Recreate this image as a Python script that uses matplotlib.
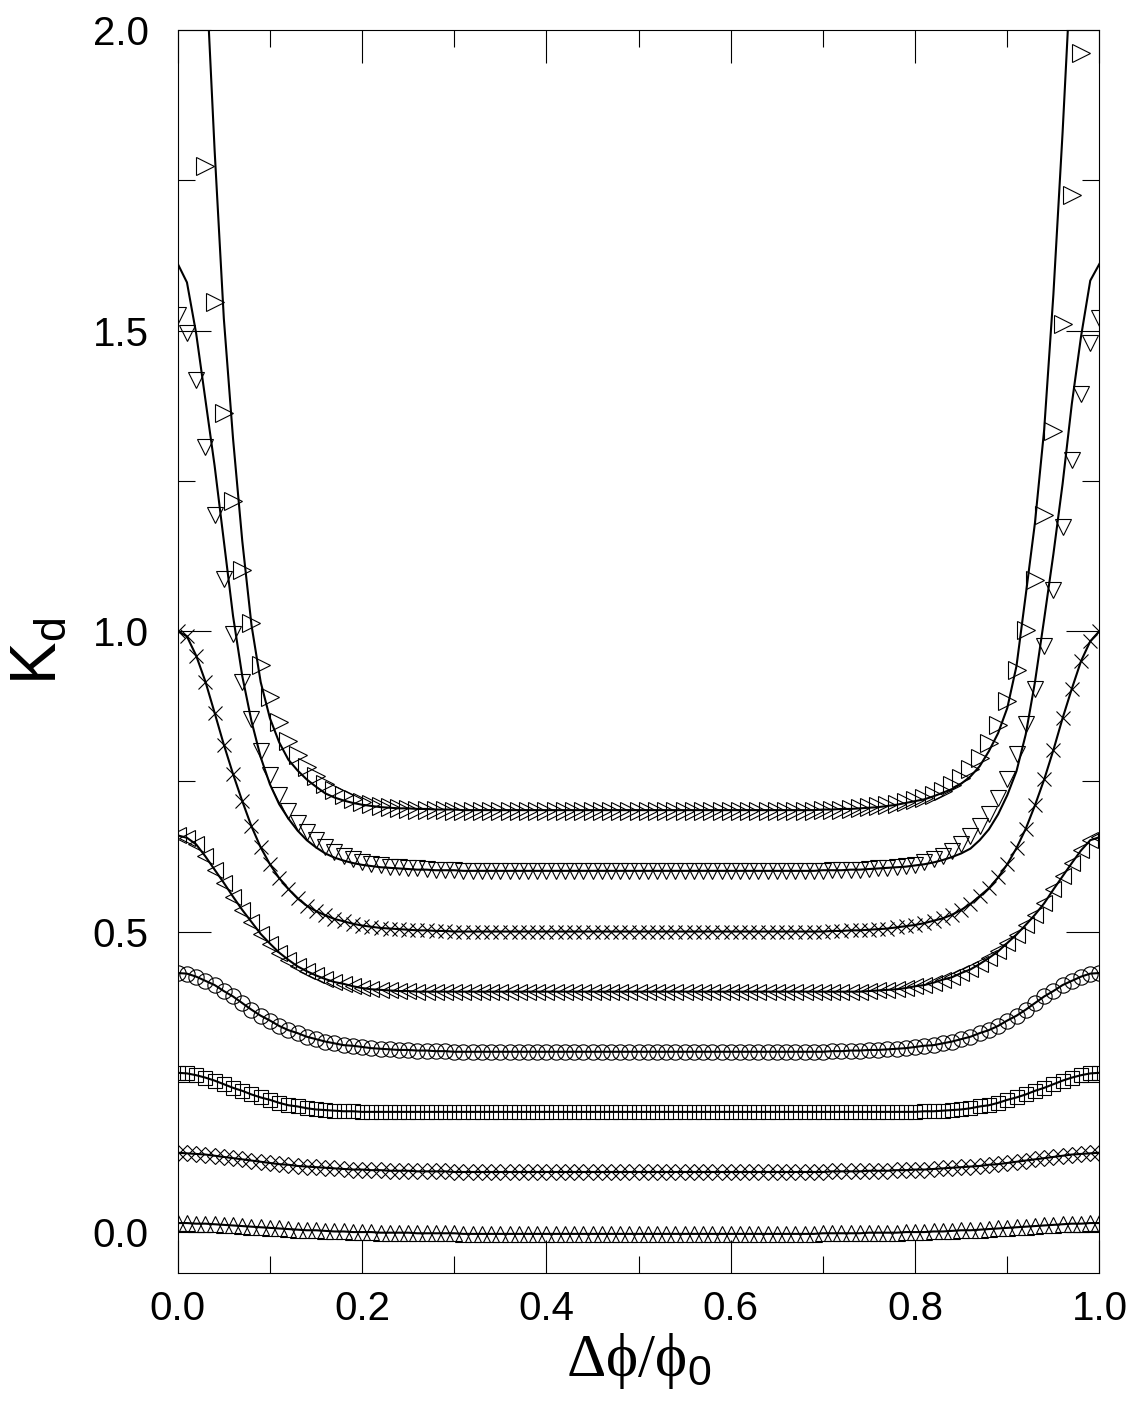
import numpy as np
import matplotlib.pyplot as plt
from matplotlib.ticker import MultipleLocator, FormatStrFormatter

plt.rcParams["font.family"] = ["Liberation Sans", "DejaVu Sans"]
plt.rcParams["mathtext.fontset"] = "custom"
plt.rcParams["mathtext.rm"] = "Liberation Serif"
plt.rcParams["mathtext.sf"] = "Liberation Sans"

# flux offset, sampled every 0.01
dphi = np.linspace(0.0, 1.0, 101)

# K_d for each data set
k_tri_up = [
    0.015, 0.015, 0.014, 0.014, 0.013, 0.012, 0.011, 0.010, 0.009, 0.008,
    0.007, 0.006, 0.005, 0.004, 0.003, 0.003, 0.002, 0.001, 0.001, 0.000,
    0.000, 0.000, -0.001, -0.001, -0.001, -0.001, -0.002, -0.002, -0.002, -0.002,
    -0.002, -0.003, -0.003, -0.003, -0.003, -0.003, -0.003, -0.003, -0.003, -0.003,
    -0.003, -0.003, -0.003, -0.003, -0.003, -0.003, -0.003, -0.003, -0.003, -0.003,
    -0.003, -0.003, -0.003, -0.003, -0.003, -0.003, -0.003, -0.003, -0.003, -0.003,
    -0.003, -0.003, -0.003, -0.003, -0.003, -0.003, -0.003, -0.003, -0.003, -0.003,
    -0.002, -0.002, -0.002, -0.002, -0.002, -0.001, -0.001, -0.001, -0.001, 0.000,
    0.000, 0.000, 0.001, 0.001, 0.002, 0.003, 0.003, 0.004, 0.005, 0.006,
    0.007, 0.008, 0.009, 0.010, 0.011, 0.012, 0.013, 0.014, 0.014, 0.015,
    0.015,
]
k_diamond = [
    0.132, 0.131, 0.130, 0.129, 0.127, 0.125, 0.123, 0.121, 0.119, 0.117,
    0.115, 0.113, 0.112, 0.110, 0.109, 0.108, 0.107, 0.106, 0.105, 0.104,
    0.104, 0.103, 0.103, 0.102, 0.102, 0.102, 0.101, 0.101, 0.101, 0.101,
    0.100, 0.100, 0.100, 0.100, 0.100, 0.100, 0.100, 0.100, 0.100, 0.100,
    0.100, 0.100, 0.100, 0.100, 0.100, 0.100, 0.100, 0.100, 0.100, 0.100,
    0.100, 0.100, 0.100, 0.100, 0.100, 0.100, 0.100, 0.100, 0.100, 0.100,
    0.100, 0.100, 0.100, 0.100, 0.100, 0.100, 0.100, 0.100, 0.100, 0.100,
    0.100, 0.101, 0.101, 0.101, 0.101, 0.102, 0.102, 0.102, 0.103, 0.103,
    0.104, 0.104, 0.105, 0.106, 0.107, 0.108, 0.109, 0.110, 0.112, 0.113,
    0.115, 0.117, 0.119, 0.121, 0.123, 0.125, 0.127, 0.129, 0.130, 0.131,
    0.132,
]
k_square = [
    0.265, 0.264, 0.261, 0.257, 0.252, 0.246, 0.240, 0.235, 0.229, 0.224,
    0.220, 0.215, 0.211, 0.209, 0.206, 0.204, 0.203, 0.202, 0.201, 0.201,
    0.200, 0.200, 0.200, 0.200, 0.200, 0.200, 0.200, 0.200, 0.200, 0.200,
    0.200, 0.200, 0.200, 0.200, 0.200, 0.200, 0.200, 0.200, 0.200, 0.200,
    0.200, 0.200, 0.200, 0.200, 0.200, 0.200, 0.200, 0.200, 0.200, 0.200,
    0.200, 0.200, 0.200, 0.200, 0.200, 0.200, 0.200, 0.200, 0.200, 0.200,
    0.200, 0.200, 0.200, 0.200, 0.200, 0.200, 0.200, 0.200, 0.200, 0.200,
    0.200, 0.200, 0.200, 0.200, 0.200, 0.200, 0.200, 0.200, 0.200, 0.200,
    0.200, 0.201, 0.201, 0.202, 0.203, 0.204, 0.206, 0.209, 0.211, 0.215,
    0.220, 0.224, 0.229, 0.235, 0.240, 0.246, 0.252, 0.257, 0.261, 0.264,
    0.265,
]
k_circle = [
    0.431, 0.430, 0.425, 0.418, 0.411, 0.401, 0.392, 0.381, 0.370, 0.360,
    0.352, 0.343, 0.336, 0.331, 0.325, 0.321, 0.317, 0.314, 0.311, 0.310,
    0.308, 0.306, 0.305, 0.304, 0.303, 0.303, 0.302, 0.302, 0.301, 0.301,
    0.300, 0.300, 0.300, 0.300, 0.300, 0.300, 0.300, 0.300, 0.300, 0.300,
    0.300, 0.300, 0.300, 0.300, 0.300, 0.300, 0.300, 0.300, 0.300, 0.300,
    0.300, 0.300, 0.300, 0.300, 0.300, 0.300, 0.300, 0.300, 0.300, 0.300,
    0.300, 0.300, 0.300, 0.300, 0.300, 0.300, 0.300, 0.300, 0.300, 0.300,
    0.300, 0.301, 0.301, 0.302, 0.302, 0.303, 0.303, 0.304, 0.305, 0.306,
    0.308, 0.310, 0.311, 0.314, 0.317, 0.321, 0.325, 0.331, 0.336, 0.343,
    0.352, 0.360, 0.370, 0.381, 0.392, 0.401, 0.411, 0.418, 0.425, 0.430,
    0.431,
]
k_tri_left = [
    0.660, 0.656, 0.645, 0.625, 0.603, 0.581, 0.558, 0.536, 0.516, 0.496,
    0.480, 0.465, 0.453, 0.442, 0.434, 0.427, 0.421, 0.416, 0.413, 0.409,
    0.406, 0.404, 0.403, 0.402, 0.401, 0.401, 0.400, 0.400, 0.400, 0.400,
    0.400, 0.400, 0.400, 0.400, 0.400, 0.400, 0.400, 0.400, 0.400, 0.400,
    0.400, 0.400, 0.400, 0.400, 0.400, 0.400, 0.400, 0.400, 0.400, 0.400,
    0.400, 0.400, 0.400, 0.400, 0.400, 0.400, 0.400, 0.400, 0.400, 0.400,
    0.400, 0.400, 0.400, 0.400, 0.400, 0.400, 0.400, 0.400, 0.400, 0.400,
    0.400, 0.400, 0.400, 0.400, 0.400, 0.401, 0.402, 0.403, 0.404, 0.406,
    0.409, 0.411, 0.415, 0.420, 0.424, 0.431, 0.437, 0.446, 0.456, 0.467,
    0.481, 0.495, 0.511, 0.528, 0.547, 0.570, 0.592, 0.614, 0.635, 0.652,
    0.657,
]
k_cross = [
    1.000, 0.991, 0.959, 0.916, 0.864, 0.811, 0.762, 0.717, 0.675, 0.640,
    0.612, 0.589, 0.571, 0.555, 0.543, 0.534, 0.527, 0.521, 0.517, 0.513,
    0.510, 0.508, 0.506, 0.505, 0.504, 0.503, 0.502, 0.502, 0.501, 0.501,
    0.500, 0.500, 0.500, 0.500, 0.500, 0.500, 0.500, 0.500, 0.500, 0.500,
    0.500, 0.500, 0.500, 0.500, 0.500, 0.500, 0.500, 0.500, 0.500, 0.500,
    0.500, 0.500, 0.500, 0.500, 0.500, 0.500, 0.500, 0.500, 0.500, 0.500,
    0.500, 0.500, 0.500, 0.500, 0.500, 0.500, 0.500, 0.500, 0.500, 0.500,
    0.500, 0.501, 0.501, 0.502, 0.502, 0.503, 0.504, 0.505, 0.507, 0.509,
    0.511, 0.514, 0.518, 0.522, 0.528, 0.536, 0.546, 0.559, 0.572, 0.590,
    0.612, 0.639, 0.671, 0.710, 0.753, 0.802, 0.855, 0.904, 0.950, 0.983,
    1.000,
]
k_tri_down = [
    1.526, 1.496, 1.417, 1.307, 1.193, 1.086, 0.995, 0.916, 0.853, 0.801,
    0.760, 0.727, 0.701, 0.681, 0.665, 0.652, 0.640, 0.632, 0.625, 0.620,
    0.616, 0.613, 0.610, 0.608, 0.607, 0.606, 0.605, 0.604, 0.603, 0.602,
    0.602, 0.601, 0.601, 0.601, 0.601, 0.601, 0.600, 0.600, 0.600, 0.600,
    0.600, 0.600, 0.600, 0.600, 0.600, 0.600, 0.600, 0.600, 0.600, 0.600,
    0.600, 0.600, 0.600, 0.600, 0.600, 0.600, 0.600, 0.600, 0.600, 0.600,
    0.600, 0.600, 0.600, 0.600, 0.600, 0.601, 0.601, 0.601, 0.601, 0.601,
    0.601, 0.602, 0.602, 0.603, 0.603, 0.604, 0.605, 0.606, 0.607, 0.609,
    0.611, 0.615, 0.620, 0.625, 0.634, 0.645, 0.659, 0.675, 0.695, 0.723,
    0.754, 0.796, 0.845, 0.903, 0.975, 1.068, 1.173, 1.285, 1.395, 1.480,
    1.521,
]
k_tri_right = [
    2.650, 2.350, 2.060, 1.773, 1.548, 1.363, 1.217, 1.101, 1.013, 0.943,
    0.890, 0.848, 0.817, 0.793, 0.774, 0.758, 0.745, 0.735, 0.727, 0.721,
    0.716, 0.712, 0.709, 0.707, 0.705, 0.704, 0.703, 0.703, 0.702, 0.702,
    0.701, 0.701, 0.701, 0.701, 0.701, 0.701, 0.700, 0.700, 0.700, 0.700,
    0.700, 0.700, 0.700, 0.700, 0.700, 0.700, 0.700, 0.700, 0.700, 0.700,
    0.700, 0.700, 0.700, 0.700, 0.700, 0.700, 0.700, 0.700, 0.700, 0.700,
    0.700, 0.700, 0.700, 0.700, 0.700, 0.701, 0.701, 0.701, 0.701, 0.701,
    0.702, 0.702, 0.703, 0.704, 0.705, 0.707, 0.709, 0.711, 0.713, 0.716,
    0.719, 0.722, 0.728, 0.734, 0.743, 0.756, 0.771, 0.789, 0.813, 0.843,
    0.884, 0.935, 1.002, 1.085, 1.193, 1.333, 1.510, 1.725, 1.961, 2.250,
    2.600,
]

# solid curves (theory); the lower sets lie on their data
fit_tri_down = [
    1.611, 1.580, 1.495, 1.385, 1.275, 1.150, 1.025, 0.925, 0.850, 0.790,
    0.745, 0.712, 0.688, 0.668, 0.652, 0.640, 0.630, 0.623, 0.618, 0.614,
    0.611, 0.609, 0.607, 0.606, 0.605, 0.604, 0.603, 0.603, 0.602, 0.602,
    0.602, 0.601, 0.601, 0.601, 0.601, 0.601, 0.601, 0.601, 0.601, 0.601,
    0.601, 0.601, 0.601, 0.601, 0.601, 0.601, 0.601, 0.601, 0.601, 0.601,
    0.601, 0.601, 0.601, 0.601, 0.601, 0.601, 0.601, 0.601, 0.601, 0.601,
    0.601, 0.601, 0.601, 0.601, 0.601, 0.601, 0.601, 0.601, 0.601, 0.601,
    0.602, 0.602, 0.602, 0.603, 0.603, 0.604, 0.605, 0.606, 0.607, 0.608,
    0.610, 0.612, 0.615, 0.619, 0.624, 0.630, 0.638, 0.652, 0.670, 0.695,
    0.727, 0.767, 0.828, 0.915, 1.020, 1.128, 1.245, 1.378, 1.490, 1.583,
    1.611,
]
fit_tri_right = [
    3.600, 3.000, 2.500, 2.120, 1.800, 1.520, 1.320, 1.150, 1.010, 0.915,
    0.855, 0.815, 0.786, 0.768, 0.753, 0.741, 0.730, 0.723, 0.718, 0.714,
    0.711, 0.709, 0.707, 0.706, 0.705, 0.705, 0.704, 0.704, 0.703, 0.703,
    0.703, 0.702, 0.702, 0.702, 0.702, 0.702, 0.702, 0.702, 0.702, 0.702,
    0.702, 0.702, 0.702, 0.702, 0.702, 0.702, 0.702, 0.702, 0.702, 0.702,
    0.702, 0.702, 0.702, 0.702, 0.702, 0.702, 0.702, 0.702, 0.702, 0.702,
    0.702, 0.702, 0.702, 0.702, 0.702, 0.702, 0.702, 0.702, 0.702, 0.702,
    0.703, 0.703, 0.704, 0.704, 0.705, 0.706, 0.707, 0.709, 0.711, 0.714,
    0.717, 0.720, 0.725, 0.731, 0.737, 0.746, 0.758, 0.775, 0.800, 0.830,
    0.872, 0.942, 1.060, 1.180, 1.335, 1.560, 1.830, 2.130, 2.500, 3.000,
    3.600,
]

fig = plt.figure(figsize=(11.35, 14.01), dpi=100)
ax = fig.add_axes([0.1566, 0.0914, 0.8121, 0.8872])

# (data, curve, marker, size)
sets = [
    (k_tri_up, k_tri_up, "^", 12),
    (k_diamond, k_diamond, "D", 7.8),
    (k_square, k_square, "s", 10),
    (k_circle, k_circle, "o", 11),
    (k_tri_left, k_tri_left, "<", 12),
    (k_cross, k_cross, "x", 10),
    (k_tri_down, fit_tri_down, "v", 12),
    (k_tri_right, fit_tri_right, ">", 12.5),
]
for data, curve, m, ms in sets:
    ax.plot(dphi, curve, "-", color="black", lw=1.5)
    ax.plot(dphi, data, ls="none", marker=m, ms=ms, mfc="none",
            mec="black", mew=0.8)

ax.set_xlim(0, 1)
ax.set_ylim(-0.068, 2.0)

ax.xaxis.set_major_locator(MultipleLocator(0.2))
ax.xaxis.set_minor_locator(MultipleLocator(0.1))
ax.yaxis.set_major_locator(MultipleLocator(0.5))
ax.yaxis.set_minor_locator(MultipleLocator(0.25))
ax.xaxis.set_major_formatter(FormatStrFormatter("%.1f"))
ax.yaxis.set_major_formatter(FormatStrFormatter("%.1f"))

ax.tick_params(which="both", direction="in", top=True, right=True,
               width=0.8, labelsize=29)
ax.tick_params(which="major", length=24)
ax.tick_params(which="minor", length=12)
ax.tick_params(axis="x", pad=12)
ax.tick_params(axis="y", pad=21)
for sp in ax.spines.values():
    sp.set_linewidth(0.8)

ax.set_xlabel(r"$\mathrm{\Delta\phi/\phi}_{\mathsf{0}}$", fontsize=44)
ax.xaxis.set_label_coords(0.5, -0.047)
ax.set_ylabel(r"$\mathsf{K_d}$", fontsize=46)
ax.yaxis.set_label_coords(-0.118, 0.5)

fig.savefig("out.png", dpi=100)
